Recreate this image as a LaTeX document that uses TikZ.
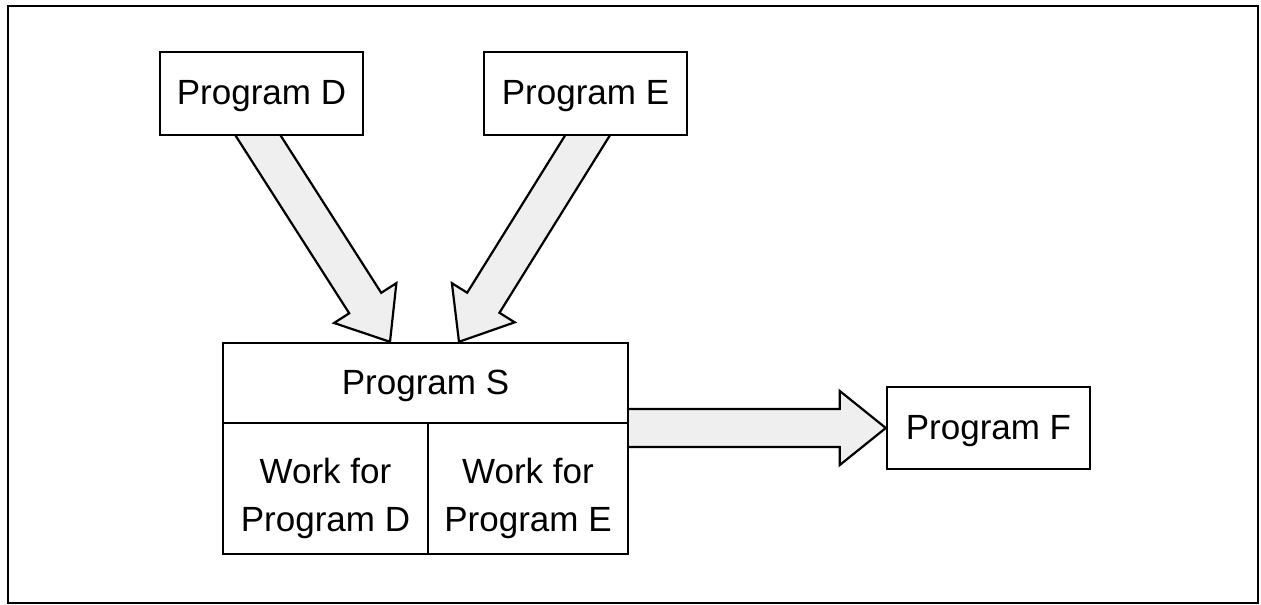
\documentclass[tikz,border=0pt]{standalone}
\usepackage{fontspec}
\setmainfont{Liberation Sans}
\usetikzlibrary{calc,backgrounds}
\definecolor{arrowgray}{HTML}{EFEFEF}
\tikzset{
  box/.style={draw, line width=2.4pt, fill=white, inner sep=0pt,
    font=\fontsize{35}{48}\selectfont, align=center,
    text height=29pt, text depth=7pt},
  twoline/.style={text height=93pt, text depth=7pt},
  fatarrow/.style={draw, line width=2.2pt, fill=arrowgray, line join=miter},
  frame/.style={draw, line width=2.6pt},
}
% Broad block arrow from #1 to the tip #2; its tail starts a bit
% behind #1 so that the source box hides the cut.
\newcommand{\blockarrow}[2]{%
  \path (#1) coordinate (fa-a) (#2) coordinate (fa-t);
  \path ($(fa-a)!-30pt!(fa-t)$) coordinate (fa-s);
  \path ($(fa-t)!46pt!(fa-a)$) coordinate (fa-b);
  \filldraw[fatarrow]
    ($(fa-s)!19pt!90:(fa-t)$) -- ($(fa-b)!19pt!-90:(fa-s)$)
    -- ($(fa-b)!37pt!-90:(fa-s)$) -- (fa-t)
    -- ($(fa-b)!37pt!90:(fa-s)$) -- ($(fa-b)!19pt!90:(fa-s)$)
    -- ($(fa-s)!19pt!-90:(fa-t)$) -- cycle;
}
\begin{document}
\begin{tikzpicture}[x=1pt, y=-1pt]
  \useasboundingbox (0,0) rectangle (1261,605);
  \path[frame] (8,6) rectangle (1258,603);

  \node[box, minimum width=203pt, minimum height=83pt] (D) at (261.5,93.5) {Program D};
  \node[box, minimum width=203pt, minimum height=83pt] (E) at (585.5,93.5) {Program E};
  \node[box, minimum width=405pt, minimum height=80pt] (S) at (425.5,383) {Program S};
  \node[box, twoline, minimum width=205pt, minimum height=131pt] (WD) at (325.5,488.5) {Work for\\Program D};
  \node[box, twoline, minimum width=200pt, minimum height=131pt] (WE) at (528,488.5) {Work for\\Program E};
  \node[box, minimum width=203pt, minimum height=82pt] (F) at (988.5,428) {Program F};

  \begin{scope}[on background layer]
    \blockarrow{$(D.south)+(-3,0)$}{$(S.north)+(-35.5,0)$}
    \blockarrow{$(E.south)+(1.5,0)$}{$(S.north)+(33.5,0)$}
    \blockarrow{S.east |- F.west}{F.west}
  \end{scope}
\end{tikzpicture}
\end{document}
